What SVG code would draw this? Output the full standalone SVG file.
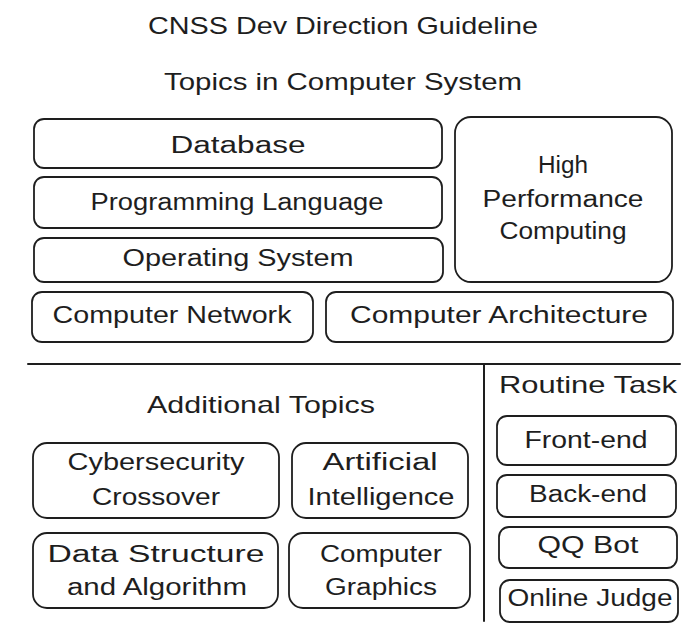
<svg xmlns="http://www.w3.org/2000/svg" width="699" height="637" viewBox="0 0 699 637">
<style>
.bg{fill:#ffffff}
.box{fill:none;stroke:#1e1e1e;stroke-width:1.8;stroke-linejoin:round}
.ln{fill:none;stroke:#1e1e1e;stroke-width:2;stroke-linecap:round}
.t{font-family:"Liberation Sans",Arial,sans-serif;font-size:23px;fill:#1e1e1e;text-anchor:middle}
.h{font-family:"Liberation Sans",Arial,sans-serif;font-size:24px;fill:#1e1e1e;text-anchor:middle}
</style>
<rect class="bg" x="0" y="0" width="699" height="637"/>
<g id="titles">
<text class="h" x="343" y="34" textLength="390" lengthAdjust="spacingAndGlyphs">CNSS Dev Direction Guideline</text>
<text class="h" x="343" y="90" textLength="358" lengthAdjust="spacingAndGlyphs">Topics in Computer System</text>
<text class="h" x="261" y="413" textLength="228" lengthAdjust="spacingAndGlyphs">Additional Topics</text>
<text class="h" x="588" y="393" textLength="178" lengthAdjust="spacingAndGlyphs">Routine Task</text>
</g>
<g id="connectors">
<path class="ln" d="M28 364 L680 364"/>
<path class="ln" d="M484 365 L484 621"/>
</g>
<g id="database">
<rect class="box" x="34" y="119" width="408" height="49" rx="10"/>
<text class="t" x="238" y="153" textLength="135" lengthAdjust="spacingAndGlyphs">Database</text>
</g>
<g id="programming-language">
<rect class="box" x="34" y="177" width="408" height="51" rx="10"/>
<text class="t" x="237" y="210" textLength="293" lengthAdjust="spacingAndGlyphs">Programming Language</text>
</g>
<g id="operating-system">
<rect class="box" x="34" y="238" width="409" height="44" rx="10"/>
<text class="t" x="238" y="266" textLength="231" lengthAdjust="spacingAndGlyphs">Operating System</text>
</g>
<g id="computer-network">
<rect class="box" x="32" y="292" width="281" height="50" rx="10"/>
<text class="t" x="172" y="323" textLength="239" lengthAdjust="spacingAndGlyphs">Computer Network</text>
</g>
<g id="computer-architecture">
<rect class="box" x="326" y="292" width="347" height="50" rx="10"/>
<text class="t" x="499" y="323" textLength="298" lengthAdjust="spacingAndGlyphs">Computer Architecture</text>
</g>
<g id="hpc">
<rect class="box" x="455" y="117" width="217" height="165" rx="16"/>
<text class="t" x="563" y="173" textLength="50" lengthAdjust="spacingAndGlyphs">High</text>
<text class="t" x="563" y="207" textLength="161" lengthAdjust="spacingAndGlyphs">Performance</text>
<text class="t" x="563" y="239" textLength="127" lengthAdjust="spacingAndGlyphs">Computing</text>
</g>
<g id="cybersecurity">
<rect class="box" x="33" y="443" width="246" height="75" rx="14"/>
<text class="t" x="156" y="470" textLength="177" lengthAdjust="spacingAndGlyphs">Cybersecurity</text>
<text class="t" x="156" y="505" textLength="128" lengthAdjust="spacingAndGlyphs">Crossover</text>
</g>
<g id="ai">
<rect class="box" x="292" y="443" width="176" height="75" rx="14"/>
<text class="t" x="380" y="470" textLength="115" lengthAdjust="spacingAndGlyphs">Artificial</text>
<text class="t" x="381" y="505" textLength="147" lengthAdjust="spacingAndGlyphs">Intelligence</text>
</g>
<g id="dsa">
<rect class="box" x="33" y="533" width="245" height="75" rx="14"/>
<text class="t" x="156" y="562" textLength="217" lengthAdjust="spacingAndGlyphs">Data Structure</text>
<text class="t" x="157" y="595" textLength="180" lengthAdjust="spacingAndGlyphs">and Algorithm</text>
</g>
<g id="graphics">
<rect class="box" x="289" y="533" width="181" height="75" rx="14"/>
<text class="t" x="381" y="562" textLength="122" lengthAdjust="spacingAndGlyphs">Computer</text>
<text class="t" x="381" y="595" textLength="112" lengthAdjust="spacingAndGlyphs">Graphics</text>
</g>
<g id="front-end">
<rect class="box" x="497" y="416" width="179" height="49" rx="10"/>
<text class="t" x="586" y="448" textLength="123" lengthAdjust="spacingAndGlyphs">Front-end</text>
</g>
<g id="back-end">
<rect class="box" x="497" y="475" width="179" height="42" rx="10"/>
<text class="t" x="588" y="502" textLength="118" lengthAdjust="spacingAndGlyphs">Back-end</text>
</g>
<g id="qq-bot">
<rect class="box" x="499" y="527" width="178" height="41" rx="10"/>
<text class="t" x="588" y="553" textLength="101" lengthAdjust="spacingAndGlyphs">QQ Bot</text>
</g>
<g id="online-judge">
<rect class="box" x="500" y="580" width="178" height="42" rx="10"/>
<text class="t" x="590" y="606" textLength="165" lengthAdjust="spacingAndGlyphs">Online Judge</text>
</g>
</svg>
